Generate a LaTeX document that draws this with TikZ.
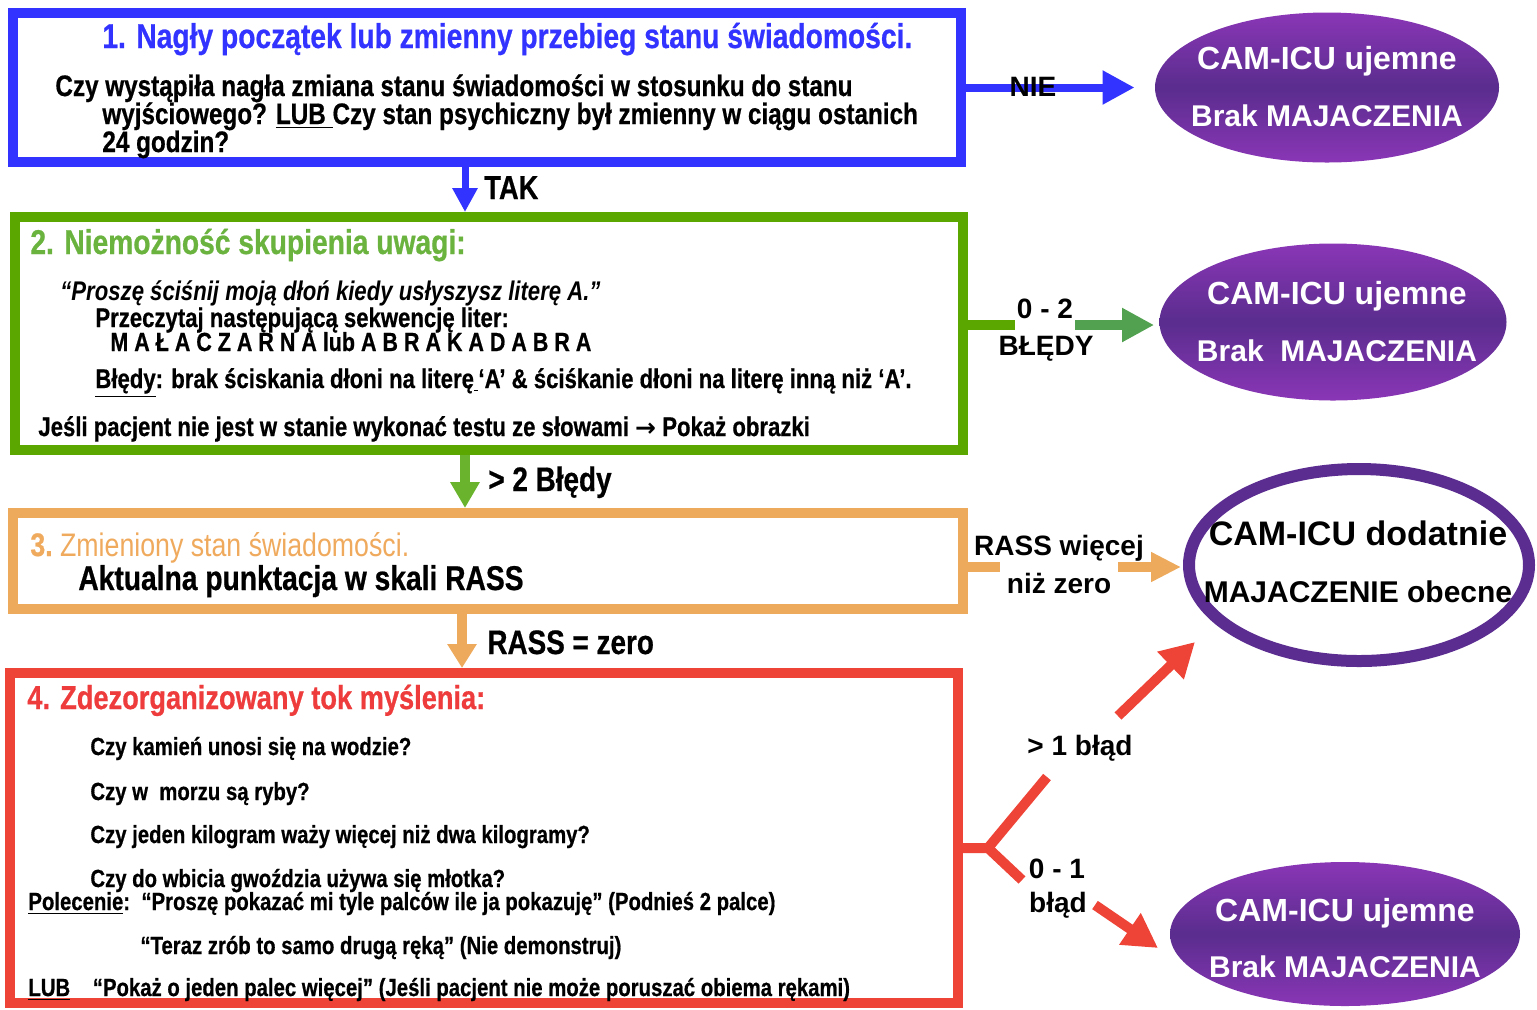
\documentclass[tikz,border=0pt]{standalone}
\usepackage{fontspec}
\setmainfont{Liberation Sans}
\newfontfamily\nar[FakeStretch=0.82,BoldFeatures={FakeBold=0.6}]{Liberation Sans}
\newfontfamily\dej{DejaVu Sans}
\usetikzlibrary{arrows.meta,shapes.geometric,calc}
\definecolor{cblue}{HTML}{3333FF}
\definecolor{cgreen}{HTML}{5CA600}
\definecolor{cgreenT}{HTML}{6AB33E}
\definecolor{cgreenA}{HTML}{6AB42D}
\definecolor{cgreenB}{HTML}{52A150}
\definecolor{corange}{HTML}{EDAA5C}
\definecolor{corangeT}{HTML}{F0AA5E}
\definecolor{cred}{HTML}{EE4337}
\definecolor{credT}{HTML}{EE3B3B}
\definecolor{cpurple}{HTML}{5C2D91}
\definecolor{cpurpleL}{HTML}{8A36B6}
\definecolor{cpurpleD}{HTML}{5A2D8E}
\begin{document}
\begin{tikzpicture}[x=0.5pt,y=-0.5pt,
  box/.style={draw, line width=5pt, fill=white, inner sep=0pt, rectangle},
  tx/.style={anchor=base west, inner sep=0pt},
  lab/.style={anchor=base, inner sep=0pt, font=\bfseries\fontsize{14}{16}\selectfont},
  nlab/.style={anchor=base west, inner sep=0pt, font=\nar\bfseries\fontsize{17}{19}\selectfont},
  fbody/.style={font=\nar\bfseries\fontsize{14.8}{17}\selectfont},
  fmid/.style={font=\nar\bfseries\fontsize{13.5}{16}\selectfont},
  fsmall/.style={font=\nar\bfseries\fontsize{12.4}{15}\selectfont},
  ftitle/.style={font=\nar\bfseries\fontsize{17.2}{20}\selectfont},
  oval/.style={ellipse, inner sep=0pt, draw=none, top color=cpurpleL, bottom color=cpurpleL, middle color=cpurpleD},
  ovtxt/.style={anchor=base, inner sep=0pt, text=white, font=\bfseries\fontsize{16}{18}\selectfont},
  ovtxtb/.style={anchor=base, inner sep=0pt, text=white, font=\bfseries\fontsize{15}{18}\selectfont},
  conn/.style={line width=5pt},
]
\useasboundingbox (0,0) rectangle (1537,1009);
% ---------- boxes ----------
\node[box, draw=cblue, minimum width=474pt, minimum height=74.5pt] (b1) at (487,87.5) {};
\node[box, draw=cgreen, minimum width=474pt, minimum height=116.5pt] (b2) at (489,333.5) {};
\node[box, draw=corange, minimum width=475pt, minimum height=48pt] (b3) at (488,561) {};
\node[box, draw=cred, minimum width=474pt, minimum height=165pt] (b4) at (484,838) {};
% ---------- ellipses ----------
\node[oval, minimum width=172pt, minimum height=75pt] (e1) at (1327,87.5) {};
\node[oval, minimum width=173.5pt, minimum height=78.5pt] (e2) at (1333,322) {};
\node[ellipse, draw=cpurple, line width=6pt, fill=white, inner sep=0pt, minimum width=170pt, minimum height=96pt] (e3) at (1359,565) {};
\node[oval, minimum width=175pt, minimum height=72pt] (e4) at (1345,934) {};
% ---------- box 1 text ----------
\node[tx, ftitle, text=cblue] (t1a) at (102,48) {1. Nagły początek lub zmienny przebieg stanu świadomości.};
\node[tx, fbody] (t1b) at (55,96) {Czy wystąpiła nagła zmiana stanu świadomości w stosunku do stanu};
\node[tx, fbody] (t1c) at (102,124) {wyjściowego? \underline{LUB\ }Czy stan psychiczny był zmienny w ciągu ostanich};
\node[tx, fbody] (t1d) at (102,152) {24 godzin?};
% ---------- box 2 text ----------
\node[tx, ftitle, text=cgreenT] (t2a) at (30,254) {2. Niemożność skupienia uwagi:};
\node[tx, fmid] (t2b) at (60,300) {\itshape “Proszę ściśnij moją dłoń kiedy usłyszysz literę A.”};
\node[tx, fmid] (t2c) at (95,327) {Przeczytaj następującą sekwencję liter:};
\node[tx, font=\nar\bfseries\fontsize{13.1}{16}\selectfont] (t2d) at (110,351) {M A Ł A C Z A R N A lub A B R A K A D A B R A};
\node[tx, fmid] (t2e) at (95,388) {\underline{Błędy}: brak ściskania dłoni na literę\underline{\,}‘A’ \& ściśkanie dłoni na literę inną niż ‘A’.};
\node[tx, fmid] (t2f) at (38,436) {Jeśli pacjent nie jest w stanie wykonać testu ze słowami {\dej\bfseries\fontsize{12.5}{15}\selectfont →} Pokaż obrazki};
% ---------- box 3 text ----------
\node[tx, text=corangeT, font=\nar\fontsize{16.3}{19}\selectfont] (t3a) at (30,556) {\bfseries 3.\mdseries\ Zmieniony stan świadomości.};
\node[tx, ftitle] (t3b) at (78,590) {Aktualna punktacja w skali RASS};
% ---------- box 4 text ----------
\node[tx, text=credT, font=\nar\bfseries\fontsize{16.6}{19}\selectfont] (t4a) at (27,709) {4. Zdezorganizowany tok myślenia:};
\node[tx, fsmall] (t4b) at (90,755) {Czy kamień unosi się na wodzie?};
\node[tx, fsmall] (t4c) at (90,800) {Czy w\ \ morzu są ryby?};
\node[tx, fsmall] (t4d) at (90,843) {Czy jeden kilogram waży więcej niż dwa kilogramy?};
\node[tx, fsmall] (t4e) at (90,887) {Czy do wbicia gwoździa używa się młotka?};
\node[tx, fsmall] (t4f) at (28,910) {\underline{Polecenie}:\ \ “Proszę pokazać mi tyle palców ile ja pokazuję” (Podnieś 2 palce)};
\node[tx, fsmall] (t4g) at (140,954) {“Teraz zrób to samo drugą ręką” (Nie demonstruj)};
\node[tx, fsmall] (t4h) at (28,996) {\underline{LUB}\ \ \ \ “Pokaż o jeden palec więcej” (Jeśli pacjent nie może poruszać obiema rękami)};
% ---------- ellipse text ----------
\node[ovtxt] (e1a) at (1327,69.5) {CAM-ICU ujemne};
\node[ovtxtb] (e1b) at (1327,126) {Brak MAJACZENIA};
\node[ovtxt] (e2a) at (1337,304.5) {CAM-ICU ujemne};
\node[ovtxtb] (e2b) at (1337,361) {Brak\ \ MAJACZENIA};
\node[ovtxt, text=black, font=\bfseries\fontsize{17}{19}\selectfont] (e3a) at (1358,545) {CAM-ICU dodatnie};
\node[ovtxtb, text=black] (e3b) at (1358,602) {MAJACZENIE obecne};
\node[ovtxt] (e4a) at (1345,921.5) {CAM-ICU ujemne};
\node[ovtxtb] (e4b) at (1345,977) {Brak MAJACZENIA};
% ---------- connectors ----------
\coordinate (s2) at (1015,325);
\coordinate (a2) at (1075,325);
\coordinate (s3) at (1000,567);
\coordinate (a3) at (1118,567);
\coordinate (r0) at (988,848);
\coordinate (r1) at (1047,777);
\coordinate (r2) at (1118,716);
\coordinate (r3) at (1195,642);
\coordinate (r4) at (1022,880);
\coordinate (r5) at (1095,905);
\coordinate (r6) at (1158,948);
% NIE
\draw[cblue, line width=4pt, -{Triangle[width=16pt,length=16pt]}] (b1.east) -- ([xshift=-10pt]e1.west);
% TAK
\draw[cblue, line width=3.5pt, -{Triangle[width=12pt,length=12pt]}] ([xshift=-11pt]b1.south) -- ([xshift=-11pt]b1.south |- b2.north);
% 0-2
\draw[cgreen, conn] ([yshift=4.25pt]b2.east) -- (s2);
\draw[cgreenB, line width=5pt, -{Triangle[width=16pt,length=16pt]}] (a2) -- ([xshift=-2.5pt]a2 -| e2.west);
% >2
\draw[cgreenA, line width=5pt, -{Triangle[width=14pt,length=13pt]}] ([xshift=-12pt]b2.south) -- ([xshift=-12pt]b2.south |- b3.north);
% RASS > 0
\draw[corange, conn] ([yshift=-3pt]b3.east) -- (s3);
\draw[corange, line width=5pt, -{Triangle[width=14pt,length=15pt]}] (a3) -- ([xshift=-1pt]a3 -| e3.west);
% RASS = 0
\draw[corange, line width=5pt, -{Triangle[width=14pt,length=12pt]}] ([xshift=-13pt]b3.south) -- ([xshift=-13pt]b3.south |- b4.north);
% red branches
\draw[cred, conn] ([yshift=-5pt]b4.east) -- (r0) -- (r1);
\draw[cred, conn, -{Triangle[width=18pt,length=17pt]}] (r2) -- (r3);
\draw[cred, conn] (r0) -- (r4);
\draw[cred, conn, -{Triangle[width=18pt,length=17pt]}] (r5) -- (r6);
% ---------- labels ----------
\node[lab] (lnie) at (1033,96) {NIE};
\node[nlab, font=\nar\bfseries\fontsize{16.6}{19}\selectfont] (ltak) at (484,199) {TAK};
\node[lab] (l02a) at (1045,318) {0 - 2};
\node[lab] (l02b) at (1046,355) {BŁĘDY};
\node[nlab] (lgt2) at (488,491) {> 2 Błędy};
\node[lab] (lra) at (1059,555) {RASS więcej};
\node[lab] (lrb) at (1059,593) {niż zero};
\node[nlab] (lrz) at (487,654) {RASS = zero};
\node[lab] (lgt1) at (1080,755) {> 1 błąd};
\node[lab] (l01a) at (1057,878) {0 - 1};
\node[lab] (l01b) at (1058,912) {błąd};
\end{tikzpicture}
\end{document}
